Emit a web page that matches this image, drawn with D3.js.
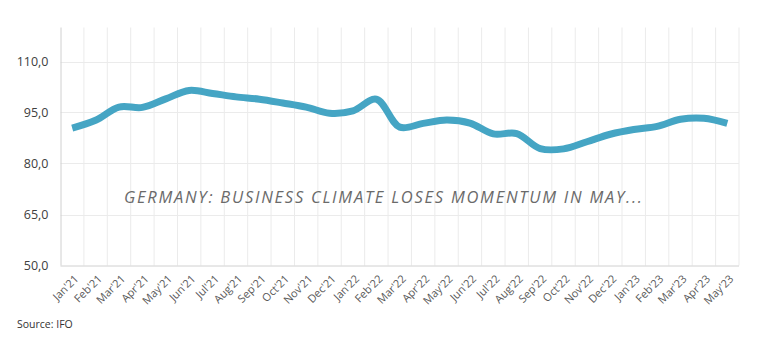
<!DOCTYPE html>
<html><head><meta charset="utf-8">
<script src="https://cdn.jsdelivr.net/npm/d3@7"></script>
<style>body{margin:0;background:#fff}svg{display:block}</style>
</head><body><svg id="c" width="761" height="355"></svg>
<script>
const categories = ["Jan'21","Feb'21","Mar'21","Apr'21","May'21","Jun'21","Jul'21","Aug'21","Sep'21","Oct'21","Nov'21","Dec'21",
"Jan'22","Feb'22","Mar'22","Apr'22","May'22","Jun'22","Jul'22","Aug'22","Sep'22","Oct'22","Nov'22","Dec'22",
"Jan'23","Feb'23","Mar'23","Apr'23","May'23"];
const values = [90.4,92.7,96.6,96.5,99.0,101.5,100.6,99.6,98.9,97.8,96.6,94.8,
95.5,98.9,90.7,91.8,92.8,91.9,88.7,88.8,84.4,84.3,86.4,88.6,
90.0,90.9,93.0,93.3,91.8];
const yTicks = [50,65,80,95,110];
const title = "GERMANY: BUSINESS CLIMATE LOSES MOMENTUM IN MAY...";
const source = "Source: IFO";

const svg = d3.select("#c");
const L=60.5, R=739, B=265.5;
const y = d3.scaleLinear().domain([50,120]).range([B,B-70*3.4]);
const T = y(120);
const x = d3.scaleBand().domain(categories).range([L,R]).padding(0);

const bounds = categories.map(c=>x(c)+x.bandwidth());
svg.append("g").selectAll("line").data(bounds).join("line")
  .attr("x1",d=>d).attr("x2",d=>d).attr("y1",T).attr("y2",B)
  .attr("stroke","#ebebeb").attr("stroke-width",1);
svg.append("g").selectAll("line").data(yTicks.filter(t=>t>50)).join("line")
  .attr("x1",L).attr("x2",R).attr("y1",d=>Math.round(y(d))+0.5).attr("y2",d=>Math.round(y(d))+0.5)
  .attr("stroke","#ebebeb").attr("stroke-width",1);

const ya = svg.append("g").attr("transform",`translate(${L},0)`)
  .call(d3.axisLeft(y).tickValues(yTicks).tickSize(0).tickPadding(12).tickFormat(d=>d3.format(".1f")(d).replace(".",",")));
ya.select(".domain").attr("stroke","#d0d0d0").attr("d",`M0.5,${T}V${B}`);
ya.selectAll("text").attr("font-family","Open Sans, sans-serif").attr("font-size","12.5px").attr("fill","#404040");

const xa = svg.append("g").attr("transform",`translate(0,${B})`)
  .call(d3.axisBottom(x).tickSize(0).tickPadding(0));
xa.select(".domain").attr("stroke","#d0d0d0").attr("d",`M${L},0.5H${R}`);
xa.selectAll("text")
  .attr("font-family","Open Sans, sans-serif").attr("font-size","11px").attr("fill","#595959")
  .attr("text-anchor","end").attr("dy",null).attr("y",0)
  .attr("transform","translate(7,14) rotate(-45)");

const line = d3.line().x((d,i)=>x(categories[i])+x.bandwidth()/2).y(d=>y(d)).curve(d3.curveCatmullRom.alpha(0.5));
svg.append("path").datum(values).attr("d",line).attr("fill","none")
  .attr("stroke","#45a5c4").attr("stroke-width",7).attr("stroke-linecap","butt").attr("stroke-linejoin","round");

svg.append("text").attr("x",124).attr("y",203).text(title)
  .attr("font-family","Open Sans, sans-serif").attr("font-style","italic").attr("font-size","16.5px")
  .attr("fill","#6a6a6a").attr("textLength",518).attr("lengthAdjust","spacing");

svg.append("text").attr("x",17).attr("y",328).text(source)
  .attr("font-family","Open Sans, sans-serif").attr("font-size","10.5px").attr("fill","#333");
</script></body></html>
